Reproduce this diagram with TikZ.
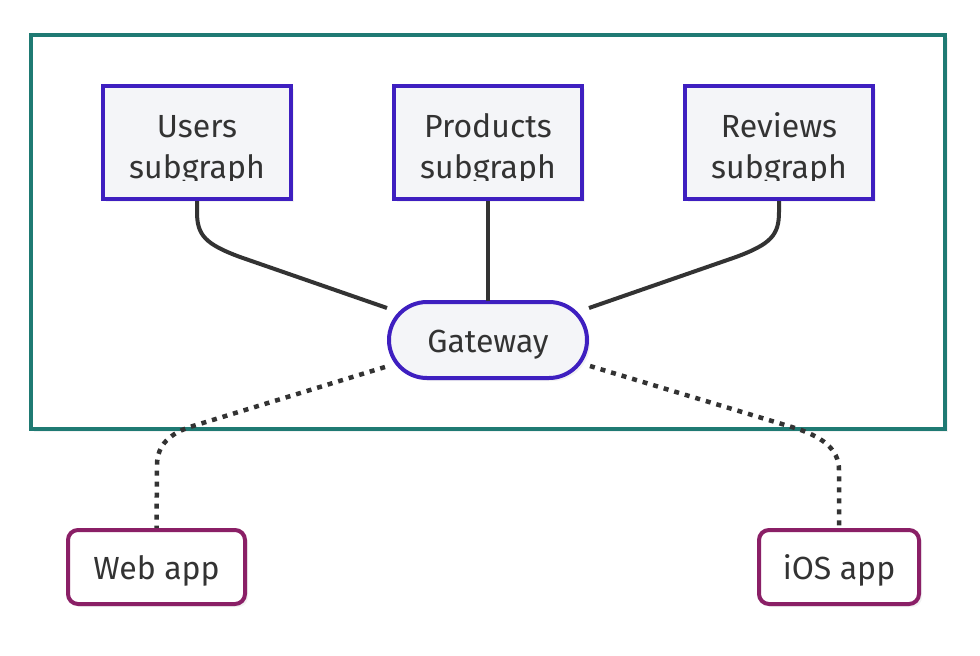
\documentclass[tikz,border=0pt]{standalone}
\usepackage{fontspec}
\setmainfont{Fira Sans}
\usetikzlibrary{shadows}
\definecolor{teal1}{HTML}{1F7A73}
\definecolor{indigo1}{HTML}{3E1FC0}
\definecolor{plum1}{HTML}{8A1F66}
\definecolor{fill1}{HTML}{F4F5F8}
\definecolor{ink}{HTML}{333333}
\tikzset{
  sh/.style={drop shadow={shadow xshift=3pt,shadow yshift=-3pt,opacity=0.10}},
  svc/.style={draw=indigo1,fill=fill1,line width=4pt,minimum width=188pt,minimum height=113pt,inner sep=0pt,sh},
  gwbox/.style={draw=indigo1,fill=fill1,line width=4pt,minimum width=198pt,minimum height=76pt,rounded corners=38pt,inner sep=0pt,sh},
  appbox/.style={draw=plum1,fill=white,line width=4pt,minimum height=74pt,rounded corners=10pt,inner sep=0pt,sh},
  lbl/.style={text=ink,font=\fontsize{32}{41}\selectfont,inner sep=0pt,anchor=base},
  solidedge/.style={draw=ink,line width=4pt},
  dotedge/.style={draw=ink,line width=4.5pt,dash pattern=on 5pt off 6pt},
}
\begin{document}
\begin{tikzpicture}[x=1pt,y=-1pt]
\useasboundingbox (0,0) rectangle (980,656);
\fill[white] (0,0) rectangle (980,656);
% outer group
\draw[teal1,line width=4pt,sh,fill=white] (31,35) rectangle (945,429);
% service boxes
\node[svc] (users) at (197,142.5) {};
\node[svc] (products) at (488,142.5) {};
\node[svc] (reviews) at (779,142.5) {};
\begin{scope}
\clip (101,86) rectangle (875,180.5);
\node[lbl] (usersA) at (197,137) {Users};
\node[lbl] (usersB) at (197,178) {subgraph};
\node[lbl] (productsA) at (488,137) {Products};
\node[lbl] (productsB) at (488,178) {subgraph};
\node[lbl] (reviewsA) at (779,137) {Reviews};
\node[lbl] (reviewsB) at (779,178) {subgraph};
\end{scope}
% gateway
\node[gwbox] (gw) at (488,340) {};
\node[lbl] (gwt) at (488,352) {Gateway};
% apps
\node[appbox,minimum width=177pt] (web) at (156.5,567) {};
\node[lbl] (webt) at (156.5,579) {Web app};
\node[appbox,minimum width=160pt] (ios) at (839,567) {};
\node[lbl] (iost) at (839,579) {iOS app};
% coordinates at gateway ends
\coordinate (gwUL) at ([xshift=-101pt,yshift=32pt]gw.center);
\coordinate (gwUR) at ([xshift=101pt,yshift=32pt]gw.center);
\coordinate (gwLL) at ([xshift=-103pt,yshift=-27pt]gw.center);
\coordinate (gwLR) at ([xshift=102pt,yshift=-26pt]gw.center);
% solid edges
\draw[solidedge] (users.south) -- ++(0,11) .. controls +(0,23) and (205,244) .. (240,257) -- (gwUL);
\draw[solidedge] (products.south) -- ([yshift=-1pt]gw.north);
\draw[solidedge] (reviews.south) -- ++(0,11) .. controls +(0,23) and (771,244) .. (736,257) -- (gwUR);
% dotted edges
\draw[dotedge] (gwLL) -- (193,426) .. controls (170,433) and (157,445) .. (157,465) -- (web.north);
\draw[dotedge] (gwLR) -- (795,428) .. controls (820,436) and (839,448) .. (839,470) -- (ios.north);
\end{tikzpicture}
\end{document}
